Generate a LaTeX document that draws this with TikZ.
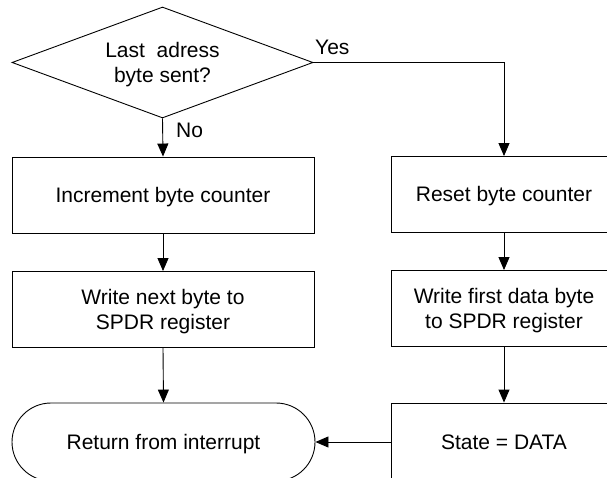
\documentclass[tikz,border=0pt]{standalone}
\usepackage{fontspec}
\setmainfont{Liberation Sans}
\usetikzlibrary{arrows.meta,shapes.geometric,shapes.misc}

\tikzset{
  flow/.style={draw=black, line width=0.9pt},
  txt/.style={font=\fontsize{21}{25}\selectfont, align=center,
              text height=15pt, text depth=0pt, inner sep=0pt},
  twoline/.style={text height=40pt},
  procbox/.style={flow, txt, rectangle, minimum height=76pt},
  decision/.style={flow, txt, diamond, aspect=2.71,
                   minimum width=301pt, minimum height=111pt},
  terminal/.style={flow, txt, rounded rectangle,
                   minimum width=303pt, minimum height=78pt},
  lbl/.style={font=\fontsize{21}{25}\selectfont, text height=15pt,
              text depth=0pt, inner sep=0pt, anchor=west},
  conn/.style={line width=0.9pt, -{Triangle[length=13pt,width=11pt]}}
}

\begin{document}
\begin{tikzpicture}[x=1pt,y=-1pt]
  \useasboundingbox (0,0) rectangle (607,478);
  \clip (0,0) rectangle (607,478);

  % decision
  \node[decision, twoline] (dec) at (162.5,62.5) {Last\ \ adress\\byte sent?};

  % left branch
  \node[procbox, minimum width=302pt] (inc)   at (163,195)   {Increment byte counter};
  \node[procbox, twoline, minimum width=302pt] (wnext) at (163,309.5) {Write next byte to\\SPDR register};
  \node[terminal] (ret) at (163.5,442) {Return from interrupt};

  % right branch
  \node[procbox, minimum width=226pt] (reset)  at (504,194.5) {Reset byte counter};
  \node[procbox, twoline, minimum width=226pt] (wfirst) at (504,308.5) {Write first data byte\\to SPDR register};
  \node[procbox, minimum width=226pt, minimum height=78pt] (state) at (504,442) {State = DATA};

  % connectors
  \draw[conn] (dec.south) -- (inc.north);
  \draw[conn] (inc.south) -- (wnext.north);
  \draw[conn] (wnext.south) -- (ret.north);
  \draw[conn] (dec.east) -| (reset.north);
  \draw[conn] (reset.south) -- (wfirst.north);
  \draw[conn] (wfirst.south) -- (state.north);
  \draw[conn] (state.west) -- (ret.east);

  % branch labels
  \node[lbl] (no)  at (176,130) {No};
  \node[lbl] (yes) at (315,47) {Yes};
\end{tikzpicture}
\end{document}
